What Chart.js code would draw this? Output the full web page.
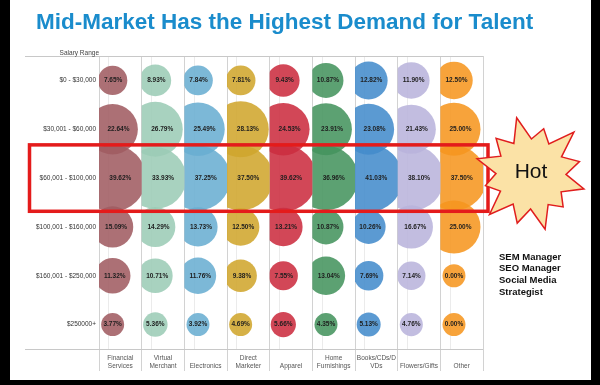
<!DOCTYPE html>
<html>
<head>
<meta charset="utf-8">
<script src="https://cdn.jsdelivr.net/npm/chart.js@4"></script>
<style>
  html, body { margin: 0; padding: 0; background: #000; }
  body { width: 600px; height: 385px; position: relative; overflow: hidden; }
  #panel { position: absolute; left: 10px; top: 0; width: 581px; height: 380px; background: #fff; }
  #chart { position: absolute; left: 0; top: 0; }
  #title { position: absolute; left: 26px; top: 8px; margin: 0; white-space: nowrap;
           font: bold 22.5px/27px "Liberation Sans", Arial, sans-serif; color: #1a8ccc; }
</style>
</head>
<body>
<div id="panel">
  <canvas id="chart" width="581" height="380"></canvas>
  <h1 id="title">Mid-Market Has the Highest Demand for Talent</h1>
</div>
<script>
const industries = [
  ['Financial', 'Services'], ['Virtual', 'Merchant'], ['', 'Electronics'],
  ['Direct', 'Marketer'], ['', 'Apparel'], ['Home', 'Furnishings'],
  ['Books/CDs/D', 'VDs'], ['', 'Flowers/Gifts'], ['', 'Other']
];
const salaryRanges = ['$0 - $30,000', '$30,001 - $60,000', '$60,001 - $100,000',
  '$100,001 - $160,000', '$160,001 - $250,000', '$250000+'];

// percent of jobs per salary range, one value per industry
const range0to30k    = [7.65, 8.93, 7.84, 7.81, 9.43, 10.87, 12.82, 11.90, 12.50];
const range30to60k   = [22.64, 26.79, 25.49, 28.13, 24.53, 23.91, 23.08, 21.43, 25.00];
const range60to100k  = [39.62, 33.93, 37.25, 37.50, 39.62, 36.96, 41.03, 38.10, 37.50];
const range100to160k = [15.09, 14.29, 13.73, 12.50, 13.21, 10.87, 10.26, 16.67, 25.00];
const range160to250k = [11.32, 10.71, 11.76, 9.38, 7.55, 13.04, 7.69, 7.14, 0.00];
const range250kPlus  = [3.77, 5.36, 3.92, 4.69, 5.66, 4.35, 5.13, 4.76, 0.00];

const industryColors = [
  'rgba(160, 92, 98, 0.88)', 'rgba(156, 204, 182, 0.88)', 'rgba(106, 174, 210, 0.88)',
  'rgba(208, 166, 46, 0.88)', 'rgba(204, 46, 64, 0.88)', 'rgba(70, 148, 94, 0.88)',
  'rgba(68, 140, 204, 0.88)', 'rgba(186, 180, 220, 0.88)', 'rgba(246, 150, 32, 0.88)'
];

const rows = [range0to30k, range30to60k, range60to100k, range100to160k, range160to250k, range250kPlus];
const bubbleShift = -0.18; // bubbles sit left of the column centre
const bubbleRadius = v => Math.max(11.5, 5.3 * Math.sqrt(v));
const FONT = '"Liberation Sans", Arial, sans-serif';

const datasets = industries.map((name, i) => ({
  label: name.join(' '),
  data: rows.map((row, j) => ({ x: i + bubbleShift, y: j, r: bubbleRadius(row[i]), v: row[i] })),
  backgroundColor: industryColors[i],
  borderWidth: 0,
  hoverBorderWidth: 0,
  hoverRadius: 0
}));

// keep every bubble inside its own industry column
const columnClip = {
  id: 'columnClip',
  beforeDatasetDraw(chart, args) {
    const { ctx, chartArea, scales: { x } } = chart;
    const l = x.getPixelForValue(args.index - 0.5);
    const r = x.getPixelForValue(args.index + 0.5);
    ctx.save();
    ctx.beginPath();
    ctx.rect(l, chartArea.top, r - l, chartArea.bottom - chartArea.top);
    ctx.clip();
  },
  afterDatasetDraw(chart) {
    chart.ctx.restore();
  }
};

const bubbleLabels = {
  id: 'bubbleLabels',
  afterDatasetsDraw(chart) {
    const { ctx, scales: { x } } = chart;
    ctx.save();
    ctx.font = 'bold 6.5px ' + FONT;
    ctx.fillStyle = '#1e1e1e';
    ctx.textAlign = 'center';
    ctx.textBaseline = 'middle';
    chart.data.datasets.forEach((ds, i) => {
      const left = x.getPixelForValue(i - 0.5), right = x.getPixelForValue(i + 0.5);
      chart.getDatasetMeta(i).data.forEach((pt, j) => {
        const r = ds.data[j].r;
        const a = Math.max(left, pt.x - r), b = Math.min(right, pt.x + r);
        ctx.fillText(ds.data[j].v.toFixed(2) + '%', (a + b) / 2, pt.y);
      });
    });
    ctx.restore();
  }
};

const annotations = {
  id: 'annotations',
  afterDraw(chart) {
    const { ctx, chartArea, scales: { x, y } } = chart;
    ctx.save();

    // axis header
    ctx.font = '6.5px ' + FONT;
    ctx.fillStyle = '#444';
    ctx.textAlign = 'right';
    ctx.textBaseline = 'middle';
    ctx.fillText('Salary Range', chartArea.left, 53);

    // highlight box round the mid-market row
    ctx.strokeStyle = '#e41b1b';
    ctx.lineWidth = 3.5;
    const top = y.getPixelForValue(2 - 0.68), bottom = y.getPixelForValue(2 + 0.68);
    ctx.strokeRect(19.5, top, x.getPixelForValue(8.5) + 5 - 19.5, bottom - top);

    // "Hot" starburst
    const cx = 521, cy = 174;
    const outer = [58, 47, 60, 50, 55, 46, 57, 51, 58, 47, 56, 50];
    const inner = 35;
    ctx.beginPath();
    outer.forEach((ro, k) => {
      const a0 = -Math.PI / 2 - 0.25 + (k / outer.length) * Math.PI * 2;
      const a1 = a0 + Math.PI / outer.length;
      const px = cx + ro * Math.cos(a0), py = cy + ro * Math.sin(a0);
      if (k === 0) ctx.moveTo(px, py); else ctx.lineTo(px, py);
      ctx.lineTo(cx + inner * Math.cos(a1), cy + inner * Math.sin(a1));
    });
    ctx.closePath();
    ctx.fillStyle = '#fbe2a6';
    ctx.fill();
    ctx.lineWidth = 1.5;
    ctx.strokeStyle = '#e01e1e';
    ctx.stroke();
    ctx.fillStyle = '#111';
    ctx.textAlign = 'center';
    ctx.font = '21px ' + FONT;
    ctx.fillText('Hot', cx, cy - 2);

    // job titles
    ctx.font = 'bold 9.5px ' + FONT;
    ctx.textAlign = 'left';
    ['SEM Manager', 'SEO Manager', 'Social Media', 'Strategist'].forEach((t, k) => {
      ctx.fillText(t, 489, 257 + k * 11.8);
    });
    ctx.restore();
  }
};

Chart.defaults.font.family = FONT;

new Chart(document.getElementById('chart'), {
  type: 'bubble',
  data: { datasets },
  options: {
    responsive: false,
    animation: false,
    events: [],
    layout: { autoPadding: false, padding: { top: 56, left: 0, right: 108, bottom: 0 } },
    plugins: { legend: { display: false }, tooltip: { enabled: false }, title: { display: false } },
    scales: {
      x: {
        type: 'linear',
        min: -0.5,
        max: industries.length - 0.5,
        afterBuildTicks: s => {
          const t = [];
          for (let i = 0; i <= industries.length; i++) {
            t.push({ value: i - 0.5 });
            if (i < industries.length) t.push({ value: i - 0.27 });
          }
          s.ticks = t;
        },
        afterFit: s => { s.height = 31; s.paddingLeft = s.paddingRight = 0; },
        border: { display: false },
        grid: {
          color: c => Number.isInteger(c.tick.value + 0.5) ? '#d2d2d2' : '#ebebeb',
          tickColor: c => Number.isInteger(c.tick.value + 0.5) ? '#d2d2d2' : 'rgba(0,0,0,0)',
          drawTicks: true,
          tickLength: 22
        },
        ticks: {
          autoSkip: false,
          maxRotation: 0,
          minRotation: 0,
          padding: -16.5,
          labelOffset: 21.33,
          color: '#555',
          font: { size: 6.5, lineHeight: 1.15 },
          callback: v => {
            const i = v + 0.5;
            return Number.isInteger(i) && i < industries.length ? industries[i] : '';
          }
        }
      },
      y: {
        type: 'linear',
        reverse: true,
        min: -0.5,
        max: salaryRanges.length - 0.5,
        afterBuildTicks: s => {
          s.ticks = [-0.5, ...salaryRanges.map((_, j) => j), salaryRanges.length - 0.5].map(v => ({ value: v }));
        },
        afterFit: s => { s.width = 89; s.paddingTop = s.paddingBottom = 0; },
        border: { display: false },
        grid: {
          color: c => Number.isInteger(c.tick.value) ? 'rgba(0,0,0,0)' : '#c8c8c8',
          drawTicks: true,
          tickLength: 74
        },
        ticks: {
          padding: -71,
          color: '#333',
          font: { size: 6.5 },
          callback: v => Number.isInteger(v) ? salaryRanges[v] : ''
        }
      }
    }
  },
  plugins: [columnClip, bubbleLabels, annotations]
});
</script>
</body>
</html>
